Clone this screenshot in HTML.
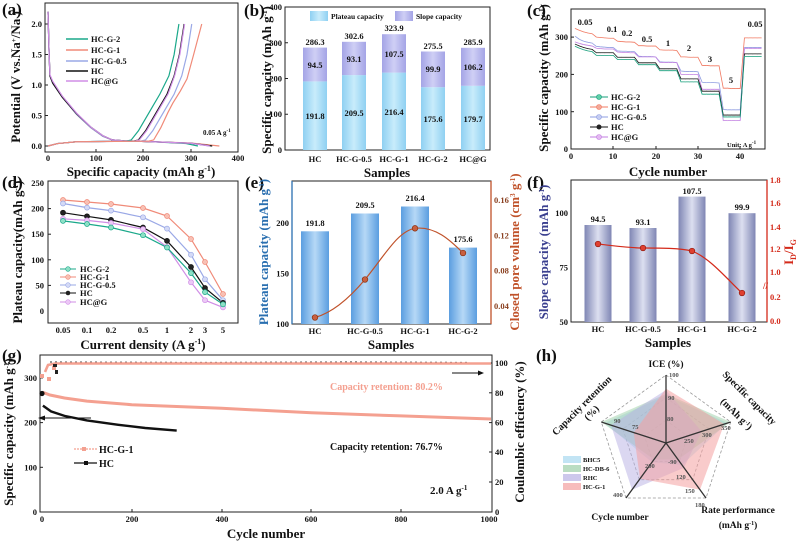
<!DOCTYPE html>
<html><head><meta charset="utf-8"><style>
html,body{margin:0;padding:0;background:#fff}
svg{display:block}
text{font-family:"Liberation Serif",serif;font-weight:bold;fill:#111}
.tk{font-size:8.5px}
.ax{font-size:13px}
.pl{font-size:17px}
.lg{font-size:8.5px}
.v{font-size:8.5px}
.box{fill:none;stroke:#222;stroke-width:1}
.ns{vector-effect:non-scaling-stroke;fill:none}
</style></head><body>
<svg width="799" height="542" viewBox="0 0 799 542" xmlns="http://www.w3.org/2000/svg">
<defs>
<linearGradient id="gb" x1="0" x2="1"><stop offset="0" stop-color="#8fd0f2"/><stop offset=".5" stop-color="#c8ecfb"/><stop offset="1" stop-color="#8fd0f2"/></linearGradient>
<linearGradient id="gs" x1="0" x2="1"><stop offset="0" stop-color="#a4a4e6"/><stop offset=".5" stop-color="#cfcff5"/><stop offset="1" stop-color="#a4a4e6"/></linearGradient>
<linearGradient id="ge" x1="0" x2="1"><stop offset="0" stop-color="#5b9ee0"/><stop offset=".5" stop-color="#b6d8f6"/><stop offset="1" stop-color="#5b9ee0"/></linearGradient>
<linearGradient id="gf" x1="0" x2="1"><stop offset="0" stop-color="#7f86b4"/><stop offset=".5" stop-color="#dcdff0"/><stop offset="1" stop-color="#7f86b4"/></linearGradient>
<marker id="m1" markerUnits="userSpaceOnUse" viewBox="-2 -10 4 20" overflow="visible"><ellipse rx="0.62" ry="7" fill="#f3a898" stroke="#f07860" stroke-width="0.3"/></marker>
<marker id="m2" markerUnits="userSpaceOnUse" viewBox="-2 -10 4 20" overflow="visible"><ellipse rx="0.62" ry="7" fill="#c4ccf2" stroke="#8e9ce0" stroke-width="0.3"/></marker>
<marker id="m3" markerUnits="userSpaceOnUse" viewBox="-2 -10 4 20" overflow="visible"><ellipse rx="0.62" ry="7" fill="#e4b8f2" stroke="#c07ee0" stroke-width="0.3"/></marker>
<marker id="m4" markerUnits="userSpaceOnUse" viewBox="-2 -10 4 20" overflow="visible"><ellipse rx="0.62" ry="7" fill="#222"/></marker>
<marker id="m5" markerUnits="userSpaceOnUse" viewBox="-2 -10 4 20" overflow="visible"><ellipse rx="0.62" ry="7" fill="#5fd0a8" stroke="#159c7a" stroke-width="0.3"/></marker>
</defs>

<!-- ===== (a) ===== -->
<text class="pl" x="2" y="15">(a)</text>
<rect class="box" x="45" y="3" width="193" height="149"/>
<g class="tk" text-anchor="end">
<text x="42" y="149">0.0</text><text x="42" y="118.5">0.5</text><text x="42" y="88">1.0</text><text x="42" y="57.5">1.5</text><text x="42" y="27">2.0</text></g>
<g stroke="#222"><line x1="45" x2="48" y1="146" y2="146"/><line x1="45" x2="48" y1="115.5" y2="115.5"/><line x1="45" x2="48" y1="85" y2="85"/><line x1="45" x2="48" y1="54.5" y2="54.5"/><line x1="45" x2="48" y1="24" y2="24"/>
<line x1="96" x2="96" y1="152" y2="149"/><line x1="143" x2="143" y1="152" y2="149"/><line x1="191" x2="191" y1="152" y2="149"/></g>
<g class="tk" text-anchor="middle"><text x="48" y="161">0</text><text x="96" y="161">100</text><text x="143" y="161">200</text><text x="191" y="161">300</text><text x="238" y="161">400</text></g>
<text class="ax" x="141" y="176" text-anchor="middle">Specific capacity (mAh g<tspan font-size="8" dy="-5">-1</tspan><tspan dy="5">)</tspan></text>
<text class="ax" font-size="11" transform="translate(20,77) rotate(-90)" text-anchor="middle">Potential (V vs.Na<tspan font-size="7" dy="-4">+</tspan><tspan dy="4">/Na )</tspan></text>
<g transform="translate(48,146) scale(0.476,-61)" stroke-width="1.2">
<polyline class="ns" stroke="#1aa88a" points="0,2.2 2,1.6 4,1.15 10,1.03 30,0.8 60,0.52 90,0.3 115,0.16 135,0.1 160,0.085 220,0.07 290,0.04 315,0"/>
<polyline class="ns" stroke="#f08a78" points="0,2.2 2,1.6 4,1.15 10,1.03 30,0.8 60,0.52 90,0.3 115,0.16 135,0.1 160,0.085 220,0.07 300,0.05 360,0"/>
<polyline class="ns" stroke="#9aa8e6" points="0,2.2 2,1.6 4,1.15 10,1.03 30,0.8 60,0.52 90,0.3 115,0.16 135,0.1 160,0.085 220,0.07 300,0.045 340,0"/>
<polyline class="ns" stroke="#111" points="0,2.2 2,1.6 4,1.15 10,1.03 30,0.8 60,0.53 90,0.31 115,0.17 135,0.1 160,0.085 220,0.07 300,0.045 345,0"/>
<polyline class="ns" stroke="#d08ee6" points="0,2.2 2,1.6 4,1.17 10,1.06 30,0.82 60,0.54 90,0.31 115,0.17 135,0.1 160,0.085 220,0.07 300,0.045 340,0"/>
<polyline class="ns" stroke="#1aa88a" points="0,0 20,0.04 60,0.07 165,0.08 175,0.1 190,0.25 205,0.45 220,0.65 235,0.85 254,1.15 265,1.5 275,2"/>
<polyline class="ns" stroke="#111" points="0,0 20,0.04 60,0.07 180,0.08 190,0.1 205,0.25 220,0.45 235,0.65 250,0.85 265,1.15 276,1.5 286,2"/>
<polyline class="ns" stroke="#d08ee6" points="0,0 20,0.04 60,0.07 182,0.08 192,0.1 207,0.25 222,0.45 237,0.65 252,0.85 266,1.15 277,1.5 287,2"/>
<polyline class="ns" stroke="#9aa8e6" points="0,0 20,0.04 60,0.07 195,0.08 205,0.1 220,0.25 235,0.45 250,0.65 265,0.85 281,1.15 292,1.5 302,2"/>
<polyline class="ns" stroke="#f08a78" points="0,0 20,0.04 60,0.07 212,0.08 222,0.1 237,0.3 252,0.55 262,0.7 278,0.9 292,1.1 306,1.5 323,2"/>
</g>
<g class="lg">
<line x1="66" x2="88" y1="39" y2="39" stroke="#1aa88a" stroke-width="1.5"/><text x="91" y="42">HC-G-2</text>
<line x1="66" x2="88" y1="50" y2="50" stroke="#f08a78" stroke-width="1.5"/><text x="91" y="53">HC-G-1</text>
<line x1="66" x2="88" y1="61" y2="61" stroke="#9aa8e6" stroke-width="1.5"/><text x="91" y="64">HC-G-0.5</text>
<line x1="66" x2="88" y1="71" y2="71" stroke="#111" stroke-width="1.5"/><text x="91" y="74">HC</text>
<line x1="66" x2="88" y1="81" y2="81" stroke="#d08ee6" stroke-width="1.5"/><text x="91" y="84">HC@G</text></g>
<text x="203" y="135" font-size="7">0.05 A g<tspan font-size="5" dy="-3">-1</tspan></text>

<!-- ===== (b) ===== -->
<text class="pl" x="244" y="16">(b)</text>
<rect class="box" x="285" y="7" width="205" height="143"/>
<g class="tk" text-anchor="end"><text x="282" y="153">0</text><text x="282" y="117">100</text><text x="282" y="81.5">200</text><text x="282" y="46">300</text><text x="282" y="10">400</text></g>
<g stroke="#222"><line x1="285" x2="288" y1="114.25" y2="114.25"/><line x1="285" x2="288" y1="78.5" y2="78.5"/><line x1="285" x2="288" y1="42.75" y2="42.75"/></g>
<text class="ax" font-size="11" transform="translate(271,80) rotate(-90)" text-anchor="middle">Specific capacity (mAh g<tspan font-size="7" dy="-4">-1</tspan><tspan dy="4">)</tspan></text>
<g>
<rect x="303" y="81.4" width="24" height="68.6" fill="url(#gb)"/><rect x="303" y="47.6" width="24" height="33.8" fill="url(#gs)"/>
<rect x="342" y="75.1" width="24" height="74.9" fill="url(#gb)"/><rect x="342" y="41.8" width="24" height="33.3" fill="url(#gs)"/>
<rect x="382" y="72.6" width="24" height="77.4" fill="url(#gb)"/><rect x="382" y="34.2" width="24" height="38.4" fill="url(#gs)"/>
<rect x="421" y="87.2" width="24" height="62.8" fill="url(#gb)"/><rect x="421" y="51.5" width="24" height="35.7" fill="url(#gs)"/>
<rect x="461" y="85.8" width="24" height="64.2" fill="url(#gb)"/><rect x="461" y="47.8" width="24" height="38" fill="url(#gs)"/>
</g>
<g class="v" text-anchor="middle">
<text x="315" y="45">286.3</text><text x="315" y="68">94.5</text><text x="315" y="119">191.8</text>
<text x="354" y="39">302.6</text><text x="354" y="62">93.1</text><text x="354" y="116">209.5</text>
<text x="394" y="31">323.9</text><text x="394" y="57">107.5</text><text x="394" y="115">216.4</text>
<text x="433" y="49">275.5</text><text x="433" y="72">99.9</text><text x="433" y="122">175.6</text>
<text x="473" y="45">285.9</text><text x="473" y="70">106.2</text><text x="473" y="122">179.7</text></g>
<rect x="310" y="11" width="18" height="10" fill="url(#gb)"/><text x="331" y="19" font-size="7.5">Plateau capacity</text>
<rect x="395" y="11" width="18" height="10" fill="url(#gs)"/><text x="416" y="19" font-size="7.5">Slope capacity</text>
<g class="tk" text-anchor="middle"><text x="315" y="162">HC</text><text x="354" y="162">HC-G-0.5</text><text x="394" y="162">HC-G-1</text><text x="433" y="162">HC-G-2</text><text x="473" y="162">HC@G</text></g>
<text class="ax" x="387" y="177" text-anchor="middle">Samples</text>

<!-- ===== (c) ===== -->
<text class="pl" x="527" y="16">(c)</text>
<rect class="box" x="571" y="9" width="194" height="140"/>
<g class="tk" text-anchor="end"><text x="568" y="152">0</text><text x="568" y="115">100</text><text x="568" y="77.5">200</text><text x="568" y="40">300</text></g>
<g class="tk" text-anchor="middle"><text x="571" y="159">0</text><text x="613" y="159">10</text><text x="656" y="159">20</text><text x="698" y="159">30</text><text x="740" y="159">40</text></g>
<g stroke="#222"><line x1="571" x2="574" y1="111.7" y2="111.7"/><line x1="571" x2="574" y1="74.4" y2="74.4"/><line x1="571" x2="574" y1="37.1" y2="37.1"/><line x1="613" x2="613" y1="149" y2="146"/><line x1="656" x2="656" y1="149" y2="146"/><line x1="698" x2="698" y1="149" y2="146"/><line x1="740" x2="740" y1="149" y2="146"/></g>
<text class="ax" x="668" y="176" text-anchor="middle">Cycle number</text>
<text class="ax" font-size="11" transform="translate(548,78) rotate(-90)" text-anchor="middle">Specific capacity (mAh g<tspan font-size="7" dy="-4">-1</tspan><tspan dy="4">)</tspan></text>
<g transform="translate(571,149) scale(4.23,-0.373)" stroke-width="0.8">
<polyline class="ns" stroke="#f07860" marker-start="url(#m1)" marker-mid="url(#m1)" marker-end="url(#m1)" points="1,323 2,318 3,314 4,311 5,309 6,300 7,299 8,298 9,297 10,297 11,289 12,288 13,287 14,287 15,286 16,277 17,277 18,276 19,276 20,276 21,266 22,265 23,265 24,265 25,264 26,247 27,247 28,246 29,246 30,246 31,224 32,224 33,223 34,223 35,223 36,163 37,163 38,162 39,162 40,162 41,298 42,298 43,298 44,298 45,298"/>
<polyline class="ns" stroke="#8e9ce0" marker-start="url(#m2)" marker-mid="url(#m2)" marker-end="url(#m2)" points="1,302 2,294 3,289 4,286 5,284 6,275 7,274 8,273 9,272 10,272 11,263 12,262 13,262 14,261 15,261 16,249 17,248 18,248 19,248 20,247 21,234 22,233 23,233 24,233 25,232 26,209 27,208 28,208 29,208 30,207 31,179 32,178 33,178 34,178 35,177 36,106 37,105 38,105 39,105 40,105 41,272 42,272 43,272 44,272 45,272"/>
<polyline class="ns" stroke="#c07ee0" marker-start="url(#m3)" marker-mid="url(#m3)" marker-end="url(#m3)" points="1,287 2,283 3,280 4,278 5,276 6,270 7,269 8,268 9,268 10,268 11,260 12,259 13,259 14,258 15,258 16,247 17,247 18,247 19,247 20,247 21,232 22,232 23,232 24,232 25,232 26,200 27,200 28,200 29,200 30,200 31,160 32,160 33,160 34,160 35,160 36,76 37,76 38,76 39,76 40,76 41,270 42,270 43,270 44,270 45,270"/>
<polyline class="ns" stroke="#111" marker-start="url(#m4)" marker-mid="url(#m4)" marker-end="url(#m4)" points="1,281 2,276 3,272 4,269 5,267 6,258 7,258 8,258 9,258 10,258 11,246 12,246 13,246 14,246 15,246 16,231 17,231 18,231 19,231 20,231 21,215 22,215 23,215 24,215 25,215 26,188 27,188 28,188 29,188 30,188 31,155 32,155 33,155 34,155 35,155 36,91 37,91 38,91 39,91 40,91 41,255 42,255 43,255 44,255 45,255"/>
<polyline class="ns" stroke="#159c7a" marker-start="url(#m5)" marker-mid="url(#m5)" marker-end="url(#m5)" points="1,275 2,270 3,266 4,263 5,261 6,251 7,251 8,251 9,251 10,251 11,240 12,240 13,240 14,240 15,240 16,226 17,226 18,226 19,226 20,226 21,210 22,210 23,210 24,210 25,210 26,180 27,180 28,180 29,180 30,180 31,147 32,147 33,147 34,147 35,147 36,86 37,86 38,86 39,86 40,86 41,248 42,248 43,248 44,248 45,248"/>
</g>
<g class="v" text-anchor="middle" font-size="8"><text x="585" y="25">0.05</text><text x="612" y="32">0.1</text><text x="627" y="36">0.2</text><text x="647" y="42">0.5</text><text x="668" y="46">1</text><text x="689" y="51">2</text><text x="710" y="62">3</text><text x="731" y="83">5</text><text x="755" y="27">0.05</text></g>
<g class="lg">
<line x1="590" x2="608" y1="97" y2="97" stroke="#159c7a"/><circle cx="599" cy="97" r="2.5" fill="#5fd0a8" stroke="#159c7a" stroke-width=".6"/><text x="611" y="100">HC-G-2</text>
<line x1="590" x2="608" y1="107" y2="107" stroke="#f07860"/><circle cx="599" cy="107" r="2.5" fill="#f3a898" stroke="#f07860" stroke-width=".6"/><text x="611" y="110">HC-G-1</text>
<line x1="590" x2="608" y1="117" y2="117" stroke="#8e9ce0"/><circle cx="599" cy="117" r="2.5" fill="#c4ccf2" stroke="#8e9ce0" stroke-width=".6"/><text x="611" y="120">HC-G-0.5</text>
<line x1="590" x2="608" y1="127" y2="127" stroke="#111"/><circle cx="599" cy="127" r="2.5" fill="#222"/><text x="611" y="130">HC</text>
<line x1="590" x2="608" y1="137" y2="137" stroke="#c07ee0"/><circle cx="599" cy="137" r="2.5" fill="#e4b8f2" stroke="#c07ee0" stroke-width=".6"/><text x="611" y="140">HC@G</text></g>
<text x="727" y="147" font-size="6.5">Unit: A g<tspan font-size="5" dy="-3">-1</tspan></text>

<!-- ===== (d) ===== -->
<text class="pl" x="2" y="188">(d)</text>
<rect class="box" x="48" y="181" width="190" height="142"/>
<g class="tk" text-anchor="end"><text x="44" y="314">0</text><text x="44" y="288.4">50</text><text x="44" y="262.8">100</text><text x="44" y="237.2">150</text><text x="44" y="211.6">200</text><text x="44" y="186">250</text></g>
<g stroke="#222"><line x1="48" x2="51" y1="285.4" y2="285.4"/><line x1="48" x2="51" y1="259.8" y2="259.8"/><line x1="48" x2="51" y1="234.2" y2="234.2"/><line x1="48" x2="51" y1="208.6" y2="208.6"/></g>
<g class="tk" text-anchor="middle"><text x="63" y="333">0.05</text><text x="87" y="333">0.1</text><text x="111" y="333">0.2</text><text x="143" y="333">0.5</text><text x="167" y="333">1</text><text x="191" y="333">2</text><text x="205" y="333">3</text><text x="223" y="333">5</text></g>
<text class="ax" x="143" y="349" text-anchor="middle">Current density (A g<tspan font-size="8" dy="-5">-1</tspan><tspan dy="5">)</tspan></text>
<text class="ax" font-size="11" transform="translate(22,252) rotate(-90)" text-anchor="middle">Plateau capacity(mAh g<tspan font-size="7" dy="-4">-1</tspan><tspan dy="4">)</tspan></text>
<g fill="none" stroke-width="1.2">
<polyline stroke="#f08a78" points="63,200 87,202 111,204 143,208 167,216 191,239 205,262 223,294"/>
<polyline stroke="#9aa8e6" points="63,203.5 87,207.6 111,210.6 143,217.3 167,228.6 191,254.7 205,279.3 223,300.2"/>
<polyline stroke="#111" points="63,212.7 87,216.3 111,219.9 143,227.5 167,240.9 191,267 205,288 223,302.8"/>
<polyline stroke="#d08ee6" points="63,218.8 87,220.4 111,223 143,229.1 167,247 191,282.3 205,300.2 223,307.4"/>
<polyline stroke="#1aa88a" points="63,220.9 87,224 111,227.5 143,235.2 167,247.5 191,273.1 205,292.1 223,304.3"/>
</g>
<g stroke-width=".7">
<g fill="#f8c0b4" stroke="#f08a78"><circle cx="63" cy="200" r="2.5"/><circle cx="87" cy="202" r="2.5"/><circle cx="111" cy="204" r="2.5"/><circle cx="143" cy="208" r="2.5"/><circle cx="167" cy="216" r="2.5"/><circle cx="191" cy="239" r="2.5"/><circle cx="205" cy="262" r="2.5"/><circle cx="223" cy="294" r="2.5"/></g>
<g fill="#d4daf6" stroke="#9aa8e6"><circle cx="63" cy="203.5" r="2.5"/><circle cx="87" cy="207.6" r="2.5"/><circle cx="111" cy="210.6" r="2.5"/><circle cx="143" cy="217.3" r="2.5"/><circle cx="167" cy="228.6" r="2.5"/><circle cx="191" cy="254.7" r="2.5"/><circle cx="205" cy="279.3" r="2.5"/><circle cx="223" cy="300.2" r="2.5"/></g>
<g fill="#222" stroke="#111"><circle cx="63" cy="212.7" r="2.5"/><circle cx="87" cy="216.3" r="2.5"/><circle cx="111" cy="219.9" r="2.5"/><circle cx="143" cy="227.5" r="2.5"/><circle cx="167" cy="240.9" r="2.5"/><circle cx="191" cy="267" r="2.5"/><circle cx="205" cy="288" r="2.5"/><circle cx="223" cy="302.8" r="2.5"/></g>
<g fill="#ecc8f6" stroke="#d08ee6"><circle cx="63" cy="218.8" r="2.5"/><circle cx="87" cy="220.4" r="2.5"/><circle cx="111" cy="223" r="2.5"/><circle cx="143" cy="229.1" r="2.5"/><circle cx="167" cy="247" r="2.5"/><circle cx="191" cy="282.3" r="2.5"/><circle cx="205" cy="300.2" r="2.5"/><circle cx="223" cy="307.4" r="2.5"/></g>
<g fill="#8ee0c6" stroke="#1aa88a"><circle cx="63" cy="220.9" r="2.5"/><circle cx="87" cy="224" r="2.5"/><circle cx="111" cy="227.5" r="2.5"/><circle cx="143" cy="235.2" r="2.5"/><circle cx="167" cy="247.5" r="2.5"/><circle cx="191" cy="273.1" r="2.5"/><circle cx="205" cy="292.1" r="2.5"/><circle cx="223" cy="304.3" r="2.5"/></g>
</g>
<g class="lg">
<line x1="60" x2="76" y1="269" y2="269" stroke="#1aa88a"/><circle cx="68" cy="269" r="2.3" fill="#8ee0c6" stroke="#1aa88a" stroke-width=".6"/><text x="80" y="272">HC-G-2</text>
<line x1="60" x2="76" y1="277" y2="277" stroke="#f08a78"/><circle cx="68" cy="277" r="2.3" fill="#f8c0b4" stroke="#f08a78" stroke-width=".6"/><text x="80" y="280">HC-G-1</text>
<line x1="60" x2="76" y1="285" y2="285" stroke="#9aa8e6"/><circle cx="68" cy="285" r="2.3" fill="#d4daf6" stroke="#9aa8e6" stroke-width=".6"/><text x="80" y="288">HC-G-0.5</text>
<line x1="60" x2="76" y1="293" y2="293" stroke="#111"/><circle cx="68" cy="293" r="2.3" fill="#222"/><text x="80" y="296">HC</text>
<line x1="60" x2="76" y1="302" y2="302" stroke="#d08ee6"/><circle cx="68" cy="302" r="2.3" fill="#ecc8f6" stroke="#d08ee6" stroke-width=".6"/><text x="80" y="305">HC@G</text></g>

<!-- ===== (e) ===== -->
<text class="pl" x="245" y="188">(e)</text>
<rect x="292" y="181" width="199" height="143" fill="none" stroke="#222"/>
<line x1="292" x2="292" y1="181" y2="324" stroke="#2a6fb0" stroke-width="1.3"/>
<line x1="491" x2="491" y1="181" y2="324" stroke="#c0522a" stroke-width="1.3"/>
<g class="tk" text-anchor="end"><text x="289" y="327">100</text><text x="289" y="276.5">150</text><text x="289" y="226">200</text></g>
<g class="tk"><text x="494" y="309" style="fill:#8a4020">0.04</text><text x="494" y="273.7" style="fill:#8a4020">0.08</text><text x="494" y="238.4" style="fill:#8a4020">0.12</text><text x="494" y="203" style="fill:#8a4020">0.16</text></g>
<text class="ax" font-size="11" transform="translate(268,252) rotate(-90)" text-anchor="middle" style="fill:#2a6fb0">Plateau capacity (mAh g<tspan font-size="7" dy="-4">-1</tspan><tspan dy="4">)</tspan></text>
<text class="ax" font-size="11" transform="translate(519,252) rotate(-90)" text-anchor="middle" style="fill:#c0522a">Closed pore volume (cm<tspan font-size="7" dy="-4">3</tspan><tspan dy="4"> g</tspan><tspan font-size="7" dy="-4">-1</tspan><tspan dy="4">)</tspan></text>
<rect x="301" y="231.3" width="28" height="92.7" fill="url(#ge)"/>
<rect x="351" y="213.5" width="28" height="110.5" fill="url(#ge)"/>
<rect x="401" y="206.5" width="28" height="117.5" fill="url(#ge)"/>
<rect x="449" y="247.6" width="28" height="76.4" fill="url(#ge)"/>
<g class="v" text-anchor="middle" font-size="8"><text x="315" y="226">191.8</text><text x="365" y="208">209.5</text><text x="415" y="201">216.4</text><text x="463" y="242">175.6</text></g>
<path d="M315,317.5 C335,312 352,295 365,279.5 C385,255 398,231 415,228.3 C435,226 450,240 463,253" fill="none" stroke="#c0522a" stroke-width="1.2"/>
<g fill="#c86040" stroke="#8a3010" stroke-width=".7"><circle cx="315" cy="317.5" r="2.8"/><circle cx="365" cy="279.5" r="2.8"/><circle cx="415" cy="228.3" r="2.8"/><circle cx="463" cy="253" r="2.8"/></g>
<g class="tk" text-anchor="middle"><text x="315" y="334">HC</text><text x="365" y="334">HC-G-0.5</text><text x="415" y="334">HC-G-1</text><text x="463" y="334">HC-G-2</text></g>
<text class="ax" x="391" y="349" text-anchor="middle">Samples</text>

<!-- ===== (f) ===== -->
<text class="pl" x="527" y="188">(f)</text>
<rect x="571" y="180" width="196" height="142" fill="none" stroke="#222"/>
<line x1="767" x2="767" y1="180" y2="322" stroke="#d42a1a" stroke-width="1.3"/>
<g class="tk" text-anchor="end"><text x="568" y="325">50</text><text x="568" y="270.5">75</text><text x="568" y="216">100</text></g>
<g class="tk"><text x="770" y="324" style="fill:#d42a1a">0.0</text><text x="770" y="300" style="fill:#d42a1a">0.2</text><text x="770" y="275" style="fill:#d42a1a">1.0</text><text x="770" y="252" style="fill:#d42a1a">1.2</text><text x="770" y="230" style="fill:#d42a1a">1.4</text><text x="770" y="206" style="fill:#d42a1a">1.6</text><text x="770" y="183" style="fill:#d42a1a">1.8</text></g>
<text x="763" y="289" font-size="9" style="fill:#d42a1a">//</text>
<text class="ax" font-size="11" transform="translate(548,252) rotate(-90)" text-anchor="middle" style="fill:#3a3f8f">Slope capacity (mAh g<tspan font-size="7" dy="-4">-1</tspan><tspan dy="4">)</tspan></text>
<text class="ax" font-size="12" transform="translate(793,252) rotate(-90)" text-anchor="middle" style="fill:#d42a1a">I<tspan font-size="8" dy="3">D</tspan><tspan dy="-3">/I</tspan><tspan font-size="8" dy="3">G</tspan></text>
<rect x="584.5" y="225" width="27" height="97" fill="url(#gf)"/>
<rect x="629.5" y="228" width="27" height="94" fill="url(#gf)"/>
<rect x="678.5" y="196.6" width="27" height="125.4" fill="url(#gf)"/>
<rect x="728.5" y="213.2" width="27" height="108.8" fill="url(#gf)"/>
<g class="v" text-anchor="middle" font-size="8"><text x="598" y="222">94.5</text><text x="643" y="225">93.1</text><text x="692" y="194">107.5</text><text x="742" y="210">99.9</text></g>
<path d="M598,244 C615,246 630,248 643,248 C660,248 680,248 692,251 C710,258 728,280 742,293" fill="none" stroke="#d42a1a" stroke-width="1.2"/>
<g fill="#e04030" stroke="#901a10" stroke-width=".7"><circle cx="598" cy="244" r="2.8"/><circle cx="643" cy="248" r="2.8"/><circle cx="692" cy="251" r="2.8"/><circle cx="742" cy="293" r="2.8"/></g>
<g class="tk" text-anchor="middle"><text x="598" y="332">HC</text><text x="643" y="332">HC-G-0.5</text><text x="692" y="332">HC-G-1</text><text x="742" y="332">HC-G-2</text></g>
<text class="ax" x="668" y="347" text-anchor="middle">Samples</text>

<!-- ===== (g) ===== -->
<text class="pl" x="2" y="361">(g)</text>
<rect class="box" x="40" y="355" width="452" height="157"/>
<g class="tk" text-anchor="end"><text x="37" y="515">0</text><text x="37" y="470.3">100</text><text x="37" y="425.6">200</text><text x="37" y="381">300</text></g>
<g class="tk"><text x="495" y="515">0</text><text x="495" y="485">20</text><text x="495" y="455">40</text><text x="495" y="425.6">60</text><text x="495" y="395.8">80</text><text x="495" y="366">100</text></g>
<g class="tk" text-anchor="middle"><text x="42" y="522">0</text><text x="132" y="522">200</text><text x="222" y="522">400</text><text x="311" y="522">600</text><text x="401" y="522">800</text><text x="489" y="522">1000</text></g>
<g stroke="#222"><line x1="132" x2="132" y1="512" y2="509"/><line x1="222" x2="222" y1="512" y2="509"/><line x1="311" x2="311" y1="512" y2="509"/><line x1="401" x2="401" y1="512" y2="509"/>
<line x1="40" x2="43" y1="467.3" y2="467.3"/><line x1="40" x2="43" y1="422.6" y2="422.6"/><line x1="40" x2="43" y1="377.9" y2="377.9"/>
<line x1="492" x2="489" y1="482" y2="482"/><line x1="492" x2="489" y1="452" y2="452"/><line x1="492" x2="489" y1="422.6" y2="422.6"/><line x1="492" x2="489" y1="392.8" y2="392.8"/><line x1="492" x2="489" y1="363" y2="363"/></g>
<text class="ax" x="266" y="538" text-anchor="middle">Cycle number</text>
<text class="ax" font-size="11" transform="translate(13,432) rotate(-90)" text-anchor="middle">Specific capacity (mAh g<tspan font-size="7" dy="-4">-1</tspan><tspan dy="4">)</tspan></text>
<text class="ax" font-size="11" transform="translate(524,432) rotate(-90)" text-anchor="middle">Coulombic efficiency (%)</text>
<polyline fill="none" stroke="#555" stroke-width="1.2" stroke-dasharray="2 3" points="50,362 200,362.5 350,362 470,362.5"/>
<polyline fill="none" stroke="#f4a090" stroke-width="2.6" points="45,372 48,365 55,363.5 491,363.5"/>
<g fill="#f4a090"><rect x="40" y="374" width="4" height="4"/><rect x="47" y="377" width="4" height="4"/><rect x="52" y="366" width="4" height="4"/></g>
<g fill="#222"><rect x="53" y="364" width="4" height="3"/><rect x="55" y="370" width="3" height="4"/></g>
<polyline fill="none" stroke="#f4a090" stroke-width="3" points="42.4,392.2 50,395 64.5,398 86.9,401.1 131.8,404.7 221.6,408.3 311.4,412.8 401.2,415.9 491,419"/>
<polyline fill="none" stroke="#111" stroke-width="2.4" points="42.9,405.6 51,411.4 64.5,415.9 86.9,420.4 118.3,424.8 145.3,428 176.7,430.6"/>
<circle cx="42" cy="393.5" r="2.6" fill="#111"/>
<text x="330" y="390" font-size="10" style="fill:#f4a090">Capacity retention: 80.2%</text>
<text x="330" y="450" font-size="10">Capacity retention: 76.7%</text>
<line x1="452" x2="480" y1="373" y2="373" stroke="#111"/><path d="M484,373 l-6,-2.5 v5z" fill="#111"/>
<line x1="44" x2="91" y1="418" y2="418" stroke="#111"/><path d="M38,418 l7,-2.5 v5z" fill="#111"/>
<text x="430" y="494" font-size="11">2.0 A g<tspan font-size="7" dy="-4">-1</tspan></text>
<line x1="74" x2="97" y1="449" y2="449" stroke="#f4a090" stroke-width="1.2" stroke-dasharray="2 1"/><rect x="82" y="447" width="4" height="4" fill="#f4a090"/><text x="99" y="453" font-size="10">HC-G-1</text>
<line x1="74" x2="97" y1="463" y2="463" stroke="#111" stroke-width="1.2"/><rect x="84" y="461" width="4" height="4" fill="#111"/><text x="99" y="467" font-size="10">HC</text>

<!-- ===== (h) ===== -->
<text class="pl" x="536" y="361">(h)</text>
<g fill="none" stroke="#999" stroke-dasharray="3 2" stroke-width=".8">
<polygon points="666,375 730.7,422 706,498 626,498 601.3,422"/>
<polygon points="666,397.7 709.1,429 692.7,479.7 639.3,479.7 622.9,429"/>
<polygon points="666,420.3 687.6,436 679.3,461.3 652.7,461.3 644.4,436"/>
</g>
<polygon points="666,395.4 727.4,423 682,465 652,462.3 604.6,423" fill="#a8d8f0" fill-opacity=".5"/>
<polygon points="666,394 730.7,422 678,459.5 654,459.5 601.3,422" fill="#9ccfa8" fill-opacity=".5"/>
<polygon points="666,390 701.6,431.4 684,467.8 632,489.8 611,425.1" fill="#b8b0e4" fill-opacity=".5"/>
<polygon points="666,388.6 724.2,424.1 700,489.8 640,478.8 633.7,432.5" fill="#f4a0a0" fill-opacity=".55"/>
<g stroke="#333" stroke-width="1.3"><line x1="666" y1="443" x2="666" y2="375"/><line x1="666" y1="443" x2="730.7" y2="422"/><line x1="666" y1="443" x2="706" y2="498"/><line x1="666" y1="443" x2="626" y2="498"/><line x1="666" y1="443" x2="601.3" y2="422"/></g>
<g font-size="6.5"><text x="669" y="377" style="fill:#555">100</text><text x="668" y="400" style="fill:#555">90</text><text x="667" y="421" style="fill:#555">80</text>
<text x="721" y="430" style="fill:#555">350</text><text x="702" y="437" style="fill:#555">300</text><text x="684" y="443" style="fill:#555">250</text>
<text x="668" y="464" style="fill:#555">-90</text><text x="676" y="479" style="fill:#555">120</text><text x="685" y="493" style="fill:#555">150</text><text x="695" y="507" style="fill:#555">180</text>
<text x="645" y="468" style="fill:#555">200</text><text x="613" y="497" style="fill:#555">400</text>
<text x="632" y="429" style="fill:#555">75</text><text x="614" y="423" style="fill:#555">90</text></g>
<text x="666" y="367" font-size="9.5" text-anchor="middle">ICE (%)</text>
<text font-size="10" transform="translate(722,375) rotate(45)">Specific capacity</text>
<text font-size="10" transform="translate(720,402) rotate(45)">(mAh g<tspan font-size="6" dy="-3">-1</tspan><tspan dy="3">)</tspan></text>
<text font-size="10" transform="translate(556,436) rotate(-45)">Capacity retention</text>
<text font-size="10" transform="translate(588,421) rotate(-45)">(%)</text>
<text x="620" y="520" font-size="9.5" text-anchor="middle">Cycle number</text>
<text x="738" y="513" font-size="9.5" text-anchor="middle">Rate performance</text>
<text x="738" y="528" font-size="9.5" text-anchor="middle">(mAh g<tspan font-size="6" dy="-3">-1</tspan><tspan dy="3">)</tspan></text>
<g font-size="6.5"><rect x="563" y="456" width="18" height="7" fill="#a8d8f0" fill-opacity=".7"/><text x="583" y="462">BHC5</text>
<rect x="563" y="465" width="18" height="7" fill="#9ccfa8" fill-opacity=".7"/><text x="583" y="471">HC-DB-6</text>
<rect x="563" y="474" width="18" height="7" fill="#b8b0e4" fill-opacity=".7"/><text x="583" y="480">RHC</text>
<rect x="563" y="483" width="18" height="7" fill="#f4a0a0" fill-opacity=".7"/><text x="583" y="489">HC-G-1</text></g>
</svg>
</body></html>
